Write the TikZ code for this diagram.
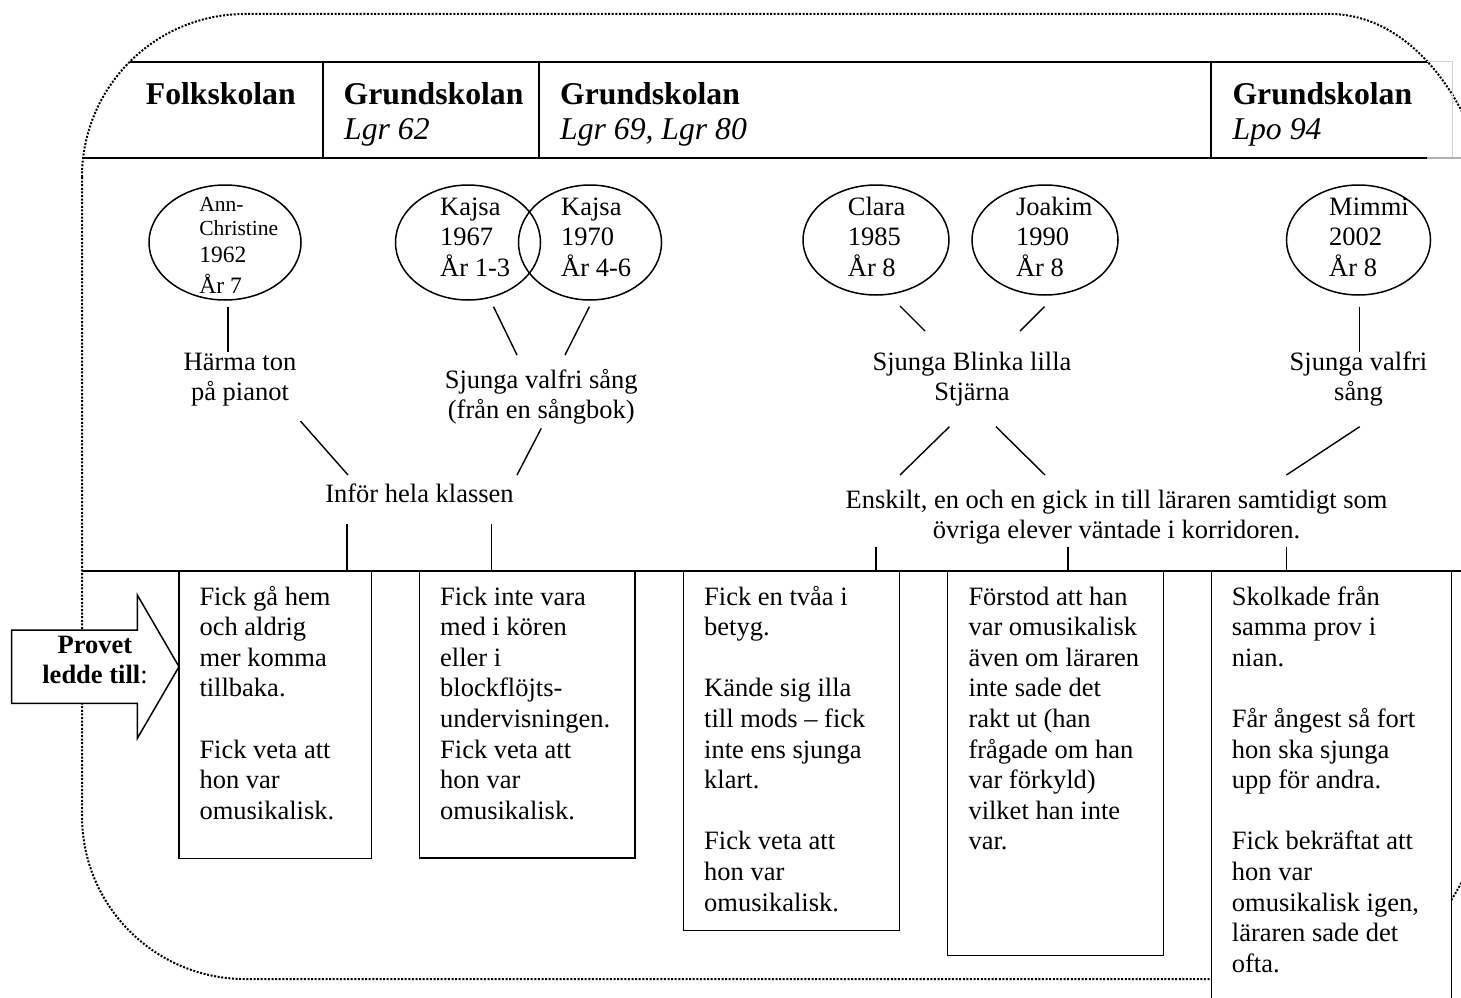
\documentclass[tikz,border=0pt]{standalone}
\usepackage{fontspec}
\setmainfont{Liberation Serif}
\usetikzlibrary{shapes.geometric}
\newcommand\bordpath{(82,177) -- (82,816) .. controls (82,906) and (155,979) .. (245,979) -- (1330,979) .. controls (1423.9,979) and (1500,860.8) .. (1500,715) -- (1500,278) .. controls (1500,132.2) and (1423.9,14) .. (1330,14) -- (245,14) .. controls (155,14) and (82,87) .. (82,177) -- cycle}
\begin{document}
\begin{tikzpicture}[x=1pt,y=-1pt,
  bord/.style={line width=2pt, dash pattern=on 2pt off 1.6pt},
  rule/.style={line width=1.5pt},
  conn/.style={line width=1.4pt},
  circ/.style={draw, ellipse, line width=1.5pt, inner sep=0pt, outer sep=0pt},
  box/.style={draw, fill=white, line width=1.5pt, anchor=north west, inner sep=0pt, outer sep=0pt},
  body/.style={font=\fontsize{26.5}{30.6}\selectfont, inner sep=0pt},
  head/.style={font=\fontsize{31.7}{35}\selectfont\bfseries, inner sep=0pt, anchor=base west},
  sub/.style={font=\fontsize{31.7}{35}\selectfont\itshape, inner sep=0pt, anchor=base west}]
\useasboundingbox (0,0) rectangle (1461,998);
\fill[white] (0,0) rectangle (1461,998);
% dotted frame
\draw[bord] \bordpath;
% header table
\begin{scope}
\clip \bordpath;
\draw[rule] (60,62) -- (1461,62);
\draw[rule] (60,158) -- (1427,158);
\draw[rule] (323,62) -- (323,158);
\draw[rule] (539,62) -- (539,158);
\draw[rule] (1211,62) -- (1211,158);
\end{scope}
\draw[gray!35, line width=1pt] (1427,62) -- (1452,62) -- (1452,158);
\draw[gray!60, line width=1.5pt] (1427,158) -- (1461,158);
\node[head] (h1) at (145.7,104) {Folkskolan};
\node[head] (h2) at (343.5,104) {Grundskolan};
\node[sub] (h2s) at (344,139) {Lgr 62};
\node[head] (h3) at (560,104) {Grundskolan};
\node[sub] (h3s) at (560,139) {Lgr 69, Lgr 80};
\node[head] (h4) at (1232.3,104) {Grundskolan};
\node[sub] (h4s) at (1232.3,139) {Lpo 94};
% middle rule
\draw[rule] (82,571) -- (1461,571);
% ellipses
\node[circ, minimum width=152pt, minimum height=115pt] (ann) at (225,242.5) {};
\node[circ, minimum width=145pt, minimum height=115pt] (k1) at (468,242.5) {};
\node[circ, minimum width=143pt, minimum height=115pt] (k2) at (590,242.5) {};
\node[circ, minimum width=146pt, minimum height=110pt] (clara) at (876,240) {};
\node[circ, minimum width=146pt, minimum height=110pt] (joakim) at (1045,240) {};
\node[circ, minimum width=144pt, minimum height=110pt] (mimmi) at (1358.5,240) {};
\node[anchor=base west, inner sep=0pt] (anntx) at (199.2,211.7) {\fontsize{21.5}{23.3}\selectfont\begin{tabular}[t]{@{}l@{}}Ann-\\Christine\\[4.4pt]\fontsize{23.5}{23.3}\selectfont 1962\\[4.4pt]\fontsize{23.5}{23.3}\selectfont År 7\end{tabular}};
\node[body, anchor=base west] (k1tx) at (440,215) {\begin{tabular}[t]{@{}l@{}}Kajsa\\1967\\År 1-3\end{tabular}};
\node[body, anchor=base west] (k2tx) at (561,215) {\begin{tabular}[t]{@{}l@{}}Kajsa\\1970\\År 4-6\end{tabular}};
\node[body, anchor=base west] (claratx) at (847.7,215) {\begin{tabular}[t]{@{}l@{}}Clara\\1985\\År 8\end{tabular}};
\node[body, anchor=base west] (joakimtx) at (1015.8,215) {\begin{tabular}[t]{@{}l@{}}Joakim\\1990\\År 8\end{tabular}};
\node[body, anchor=base west] (mimmitx) at (1329,215) {\begin{tabular}[t]{@{}l@{}}Mimmi\\2002\\År 8\end{tabular}};
% middle texts
\node[body, anchor=base] (harma) at (240,370) {\begin{tabular}[t]{@{}c@{}}Härma ton\\på pianot\end{tabular}};
\node[body, anchor=base] (sjunga) at (541.3,388) {\begin{tabular}[t]{@{}c@{}}Sjunga valfri sång\\(från en sångbok)\end{tabular}};
\node[body, anchor=base] (infor) at (419.5,502) {Inför hela klassen};
\node[body, anchor=base] (blinka) at (972,370) {\begin{tabular}[t]{@{}c@{}}Sjunga Blinka lilla\\Stjärna\end{tabular}};
\node[body, anchor=base] (valfri) at (1358.5,370) {\begin{tabular}[t]{@{}c@{}}Sjunga valfri\\sång\end{tabular}};
\node[body, anchor=base] (enskilt) at (1116.5,508) {\begin{tabular}[t]{@{}c@{}}Enskilt, en och en gick in till läraren samtidigt som\\övriga elever väntade i korridoren.\end{tabular}};
% connector end points
\coordinate (a1) at (228,306.7); \coordinate (a2) at (228,351.7);
\coordinate (a3) at (300.4,421); \coordinate (a4) at (348,475);
\coordinate (a5) at (493.5,306.7); \coordinate (a6) at (517,355);
\coordinate (a7) at (589.4,306.7); \coordinate (a8) at (565,355);
\coordinate (a9) at (541.3,428.3); \coordinate (a10) at (517,475);
\coordinate (d1) at (347,524); \coordinate (d2) at (491.7,524);
\coordinate (c1) at (900,306); \coordinate (c2) at (925,331);
\coordinate (c3) at (1044.5,306.7); \coordinate (c4) at (1020,331);
\coordinate (c5) at (1359.7,306.7); \coordinate (c6) at (1359.7,351.7);
\coordinate (c7) at (949.4,426.7); \coordinate (c8) at (900,475);
\coordinate (c9) at (996,426.7); \coordinate (c10) at (1045,475);
\coordinate (c11) at (1359.7,426.7); \coordinate (c12) at (1286.4,475);
\coordinate (e1) at (876,546.7); \coordinate (e2) at (1068,546.7); \coordinate (e3) at (1286.4,546.7);
\draw[conn] (a1) -- (a2);
\draw[conn] (a3) -- (a4);
\draw[conn] (a5) -- (a6);
\draw[conn] (a7) -- (a8);
\draw[conn] (a9) -- (a10);
\draw[conn] (c1) -- (c2);
\draw[conn] (c3) -- (c4);
\draw[conn] (c5) -- (c6);
\draw[conn] (c7) -- (c8);
\draw[conn] (c9) -- (c10);
\draw[conn] (c11) -- (c12);
% arrow
\draw[rule, fill=white] (11.7,630) -- (137.3,630) -- (137.3,595) -- (179,666.7) -- (137.3,738.4) -- (137.3,703.3) -- (11.7,703.3) -- cycle;
\node[body, anchor=base] (provet) at (95,653) {\begin{tabular}[t]{@{}c@{}}\textbf{Provet}\\\textbf{ledde till}:\end{tabular}};
% boxes
\node[box, minimum width=192.3pt, minimum height=287.3pt] (b1) at (179,571) {};
\node[box, minimum width=215.7pt, minimum height=287pt] (b2) at (419.3,571) {};
\node[box, minimum width=216pt, minimum height=359.7pt] (b3) at (683.3,571) {};
\node[box, minimum width=216pt, minimum height=384.7pt] (b4) at (947.3,571) {};
\node[box, minimum width=240pt, minimum height=450pt] (b5) at (1211.7,571) {};
\draw[conn] (d1) -- (d1 |- b1.north);
\draw[conn] (d2) -- (d2 |- b2.north);
\draw[conn] (e1) -- (e1 |- b3.north);
\draw[conn] (e2) -- (e2 |- b4.north);
\draw[conn] (e3) -- (e3 |- b5.north);
\node[body, anchor=base west] (t1) at (199.3,605) {\begin{tabular}[t]{@{}l@{}}Fick gå hem\\och aldrig\\mer komma\\tillbaka.\\ {} \\Fick veta att\\hon var\\omusikalisk.\end{tabular}};
\node[body, anchor=base west] (t2) at (440,605) {\begin{tabular}[t]{@{}l@{}}Fick inte vara\\med i kören\\eller i\\blockflöjts-\\undervisningen.\\Fick veta att\\hon var\\omusikalisk.\end{tabular}};
\node[body, anchor=base west] (t3) at (704,605) {\begin{tabular}[t]{@{}l@{}}Fick en tvåa i\\betyg.\\ {} \\Kände sig illa\\till mods – fick\\inte ens sjunga\\klart.\\ {} \\Fick veta att\\hon var\\omusikalisk.\end{tabular}};
\node[body, anchor=base west] (t4) at (968.3,605) {\begin{tabular}[t]{@{}l@{}}Förstod att han\\var omusikalisk\\även om läraren\\inte sade det\\rakt ut (han\\frågade om han\\var förkyld)\\vilket han inte\\var.\end{tabular}};
\node[body, anchor=base west] (t5) at (1231.7,605) {\begin{tabular}[t]{@{}l@{}}Skolkade från\\samma prov i\\nian.\\ {} \\Får ångest så fort\\hon ska sjunga\\upp för andra.\\ {} \\Fick bekräftat att\\hon var\\omusikalisk igen,\\läraren sade det\\ofta.\end{tabular}};
\end{tikzpicture}
\end{document}
